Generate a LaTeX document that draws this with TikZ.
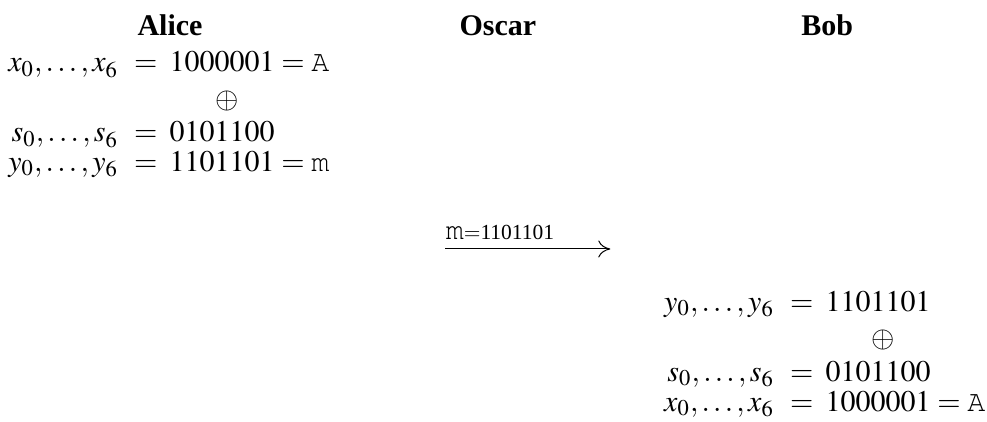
\documentclass[tikz,border=0pt]{standalone}
\usepackage{mathptmx}
\usepackage[T1]{fontenc}
\usepackage{fontspec}
\setmainfont{Liberation Serif}
\usepackage{tikz}
\usetikzlibrary{arrows.meta, positioning}
\tikzset{
  txt/.style={inner sep=0pt, anchor=base, font=\fontsize{12}{14}\selectfont},
  hdr/.style={txt, font=\fontsize{12}{14}\selectfont\bfseries},
  eqs/.style={txt},
  xorsym/.style={inner sep=0pt, anchor=center, font=\fontsize{12}{14}\selectfont},
  msg/.style={-{To[length=1.7mm, width=2.4mm]}, line width=0.4pt, draw=black},
  msglbl/.style={inner sep=0pt, anchor=base west, yshift=3.6pt,
                 font=\fontsize{12}{14}\selectfont},
}
\newcommand{\cour}[1]{\mbox{\fontencoding{T1}\fontfamily{pcr}\selectfont #1}}
\newcommand{\smalldigits}{\fontsize{8.6}{10}\selectfont}

\begin{document}
\begin{tikzpicture}
  \useasboundingbox (0,0) rectangle (13.875,-5.932);
  \node[hdr] (alice) at (2.39,-0.506) {Alice};
  \node[hdr] (oscar) at (7.00,-0.506) {Oscar};
  \node[hdr] (bob)   at (11.63,-0.506) {Bob};
  % Alice encrypts
  \node[eqs] (axe) at (2.05,-1.012) {$=$};
  \node[txt, base left=6pt of axe]    (axl) {$x_0,\dots,x_6$};
  \node[txt, base right=4.5pt of axe] (axr) {$1000001 = \cour{A}$};
  \node[xorsym] (aor) at (3.19,-1.42) {$\oplus$};
  \node[eqs] (ase) at (2.05,-1.996) {$=$};
  \node[txt, base left=6pt of ase]    (asl) {$s_0,\dots,s_6$};
  \node[txt, base right=4.5pt of ase] (asr) {$0101100$};
  \node[eqs] (aye) at (2.05,-2.404) {$=$};
  \node[txt, base left=6pt of aye]    (ayl) {$y_0,\dots,y_6$};
  \node[txt, base right=4.5pt of aye] (ayr) {$1101101 = \cour{m}$};
  % message over the channel
  \coordinate (sendA) at (6.26,-3.50);
  \coordinate (sendB) at (8.58,-3.50);
  \draw[msg] (sendA) -- node[msglbl, pos=0] {\cour{m}{\smalldigits$=$1101101}} (sendB);
  % Bob decrypts
  \node[eqs] (bye) at (11.27,-4.372) {$=$};
  \node[txt, base left=6pt of bye]    (byl) {$y_0,\dots,y_6$};
  \node[txt, base right=4.5pt of bye] (byr) {$1101101$};
  \node[xorsym] (bor) at (12.41,-4.78) {$\oplus$};
  \node[eqs] (bse) at (11.27,-5.356) {$=$};
  \node[txt, base left=6pt of bse]    (bsl) {$s_0,\dots,s_6$};
  \node[txt, base right=4.5pt of bse] (bsr) {$0101100$};
  \node[eqs] (bxe) at (11.27,-5.778) {$=$};
  \node[txt, base left=6pt of bxe]    (bxl) {$x_0,\dots,x_6$};
  \node[txt, base right=4.5pt of bxe] (bxr) {$1000001 = \cour{A}$};
\end{tikzpicture}
\end{document}
